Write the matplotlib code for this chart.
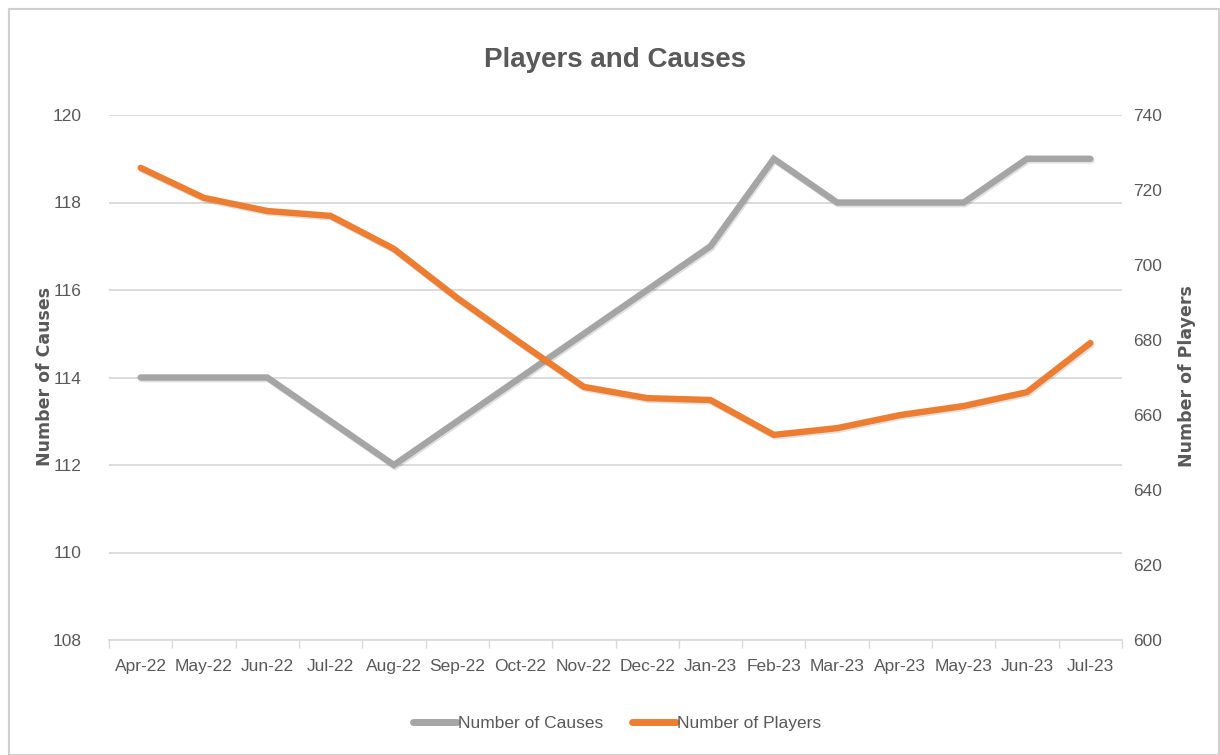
import matplotlib
matplotlib.use("Agg")
import matplotlib.pyplot as plt
import matplotlib.patheffects as pe
from matplotlib.patches import Rectangle
from matplotlib.ticker import FixedLocator, MultipleLocator

months = ["Apr-22", "May-22", "Jun-22", "Jul-22", "Aug-22", "Sep-22", "Oct-22", "Nov-22",
          "Dec-22", "Jan-23", "Feb-23", "Mar-23", "Apr-23", "May-23", "Jun-23", "Jul-23"]
causes = [114, 114, 114, 113, 112, 113, 114, 115, 116, 117, 119, 118, 118, 118, 119, 119]
players = [725.9, 717.9, 714.4, 713.1, 704.3, 691.2, 679.2, 667.5,
           664.5, 664.0, 654.7, 656.5, 660.0, 662.4, 666.1, 679.2]

FONT = ["Liberation Sans Narrow", "Liberation Sans", "DejaVu Sans"]
TXT = "#595959"
GRAY = "#A5A5A5"
ORANGE = "#ED7D31"
GRID = "#D9D9D9"

fig = plt.figure(figsize=(12.2, 7.55), dpi=100)
fig.patches.append(Rectangle((9 / 1220, 0), 1 - 10 / 1220, 1 - 9 / 755, transform=fig.transFigure,
                             fill=False, edgecolor="#D0D0D0", linewidth=1.5))

ax = fig.add_axes([109 / 1220, 1 - 640 / 755, (1122 - 109) / 1220, (640 - 115) / 755])
ax2 = ax.twinx()

x = list(range(len(months)))
shadow = [pe.SimpleLineShadow(offset=(0.8, -1.2), shadow_color="black", alpha=0.12), pe.Normal()]
ax.plot(x, causes, color=GRAY, linewidth=4.6, solid_capstyle="round", solid_joinstyle="miter",
        path_effects=shadow, label="Number of Causes", zorder=3)
ax2.plot(x, players, color=ORANGE, linewidth=4.6, solid_capstyle="round", solid_joinstyle="miter",
         path_effects=shadow, label="Number of Players", zorder=3)

ax.set_xlim(-0.5, len(months) - 0.5)
ax.set_ylim(108, 120)
ax.yaxis.set_major_locator(MultipleLocator(2))
ax2.set_ylim(600, 740)
ax2.yaxis.set_major_locator(MultipleLocator(20))

ax.set_xticks(x)
ax.set_xticklabels(months)
ax.xaxis.set_minor_locator(FixedLocator([i - 0.5 for i in range(len(months) + 1)]))
ax.tick_params(axis="x", which="major", length=0, pad=14, labelsize=12.5, labelcolor=TXT)
ax.tick_params(axis="x", which="minor", length=6, width=1, color=GRID, direction="out")
ax.tick_params(axis="y", length=0, pad=20, labelsize=12.5, labelcolor=TXT)
ax2.tick_params(axis="y", length=0, pad=8, labelsize=12.5, labelcolor=TXT)

for lab in ax.get_xticklabels() + ax.get_yticklabels() + ax2.get_yticklabels():
    lab.set_family(FONT)

ax.grid(axis="y", color=GRID, linewidth=1.3)
ax.set_axisbelow(True)
for s in ["top", "left", "right"]:
    ax.spines[s].set_visible(False)
    ax2.spines[s].set_visible(False)
ax.spines["bottom"].set_color(GRID)
ax.spines["bottom"].set_linewidth(1.3)
ax2.spines["bottom"].set_visible(False)

fig.text(615 / 1220, 1 - 60 / 755, "Players and Causes", ha="center", va="center",
         fontsize=20, fontweight="bold", color=TXT, family=FONT)
fig.text(45 / 1220, 1 - 376 / 755, "Number of Causes", ha="center", va="center", rotation=90,
         fontsize=12.5, fontweight="bold", color=TXT, family=["DejaVu Sans"])
fig.text(1187 / 1220, 1 - 376 / 755, "Number of Players", ha="center", va="center", rotation=90,
         fontsize=12.5, fontweight="bold", color=TXT, family=["DejaVu Sans"])

h1, l1 = ax.get_legend_handles_labels()
h2, l2 = ax2.get_legend_handles_labels()
leg = fig.legend(h1 + h2, l1 + l2, loc="center", bbox_to_anchor=(617 / 1220, 1 - 723 / 755),
                 ncol=2, frameon=False, handlelength=2.5, handletextpad=0.05, columnspacing=1.7,
                 prop={"family": FONT, "size": 12.5})
for t in leg.get_texts():
    t.set_color(TXT)
for lh in leg.get_lines():
    lh.set_path_effects([])
    lh.set_linewidth(5)

fig.savefig("out.png", dpi=100)
